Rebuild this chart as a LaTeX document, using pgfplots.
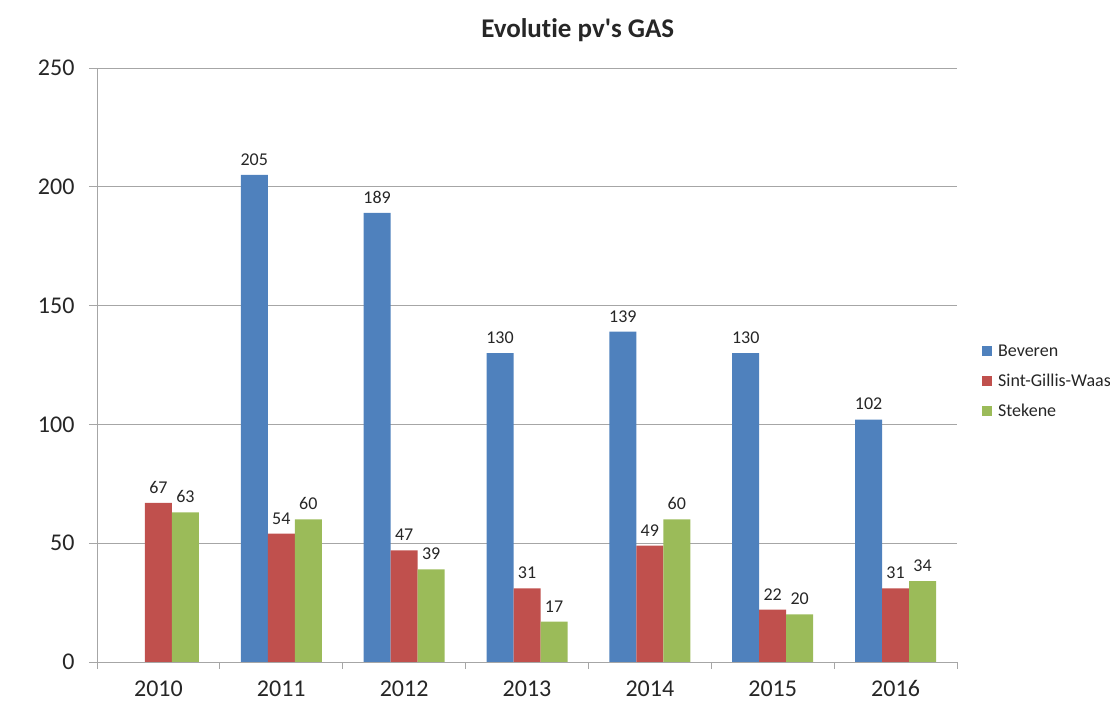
\documentclass[border=0pt]{standalone}
\usepackage{pgfplots}
\pgfplotsset{compat=1.18}
\usepackage{fontspec}
\setmainfont{Carlito}[Ligatures=NoCommon]
\definecolor{cBlue}{HTML}{4F81BD}
\definecolor{cRed}{HTML}{C0504D}
\definecolor{cGreen}{HTML}{9BBB59}
\definecolor{cGrid}{HTML}{A6A6A6}
\definecolor{cText}{HTML}{262626}
\begin{document}
\begin{tikzpicture}
\path[use as bounding box] (-97pt,-41pt) rectangle (1013pt,662pt);
\begin{axis}[
  at={(0pt,0pt)}, anchor=south west,
  scale only axis, width=860pt, height=594pt,
  xmin=-0.5, xmax=6.5, ymin=0, ymax=250,
  axis lines=left, axis line style={-, cGrid, line width=0.9pt},
  ybar=0pt, bar width=27pt,
  xtick={0,...,6},
  xticklabels={2010,2011,2012,2013,2014,2015,2016},
  minor xtick={-0.5,0.5,...,6.5},
  major x tick style={draw=none},
  minor x tick style={cGrid, line width=0.9pt},
  minor tick length=7pt,
  ytick={0,50,...,250},
  major y tick style={cGrid, line width=0.9pt},
  major tick length=8pt,
  tick align=outside,
  ymajorgrids, grid style={cGrid, line width=0.9pt},
  /pgf/number format/assume math mode=true,
  ticklabel style={font=\fontsize{24}{28}\selectfont, text=cText},
  xticklabel style={yshift=-8pt, inner sep=1pt, text height=17pt, text depth=0pt},
  yticklabel style={xshift=-11pt},
  nodes near coords,
  every node near coord/.append style={font=\fontsize{18}{21}\selectfont, text=cText, yshift=6pt, /pgf/number format/assume math mode=true},
  legend style={at={(1.0255,0.473)}, anchor=west, draw=none, fill=none,
    font=\fontsize{18}{21}\selectfont, text=cText, row sep=12pt},
  legend cell align=left,
  legend image code/.code={\fill[#1] (0pt,-5pt) rectangle (10pt,5pt); \path (14pt,0pt);},
  clip=false,
]
\addplot[fill=cBlue, draw=none] coordinates {(1,205) (2,189) (3,130) (4,139) (5,130) (6,102)};
\addplot[fill=cRed, draw=none] coordinates {(0,67) (1,54) (2,47) (3,31) (4,49) (5,22) (6,31)};
\addplot[fill=cGreen, draw=none] coordinates {(0,63) (1,60) (2,39) (3,17) (4,60) (5,20) (6,34)};
\legend{Beveren,Sint-Gillis-Waas,Stekene}
\node[font=\bfseries\fontsize{27}{31}\selectfont, text=cText] at (rel axis cs:0.559,1) [yshift=38pt] {Evolutie pv\textquotesingle s GAS};
\end{axis}
\end{tikzpicture}
\end{document}
